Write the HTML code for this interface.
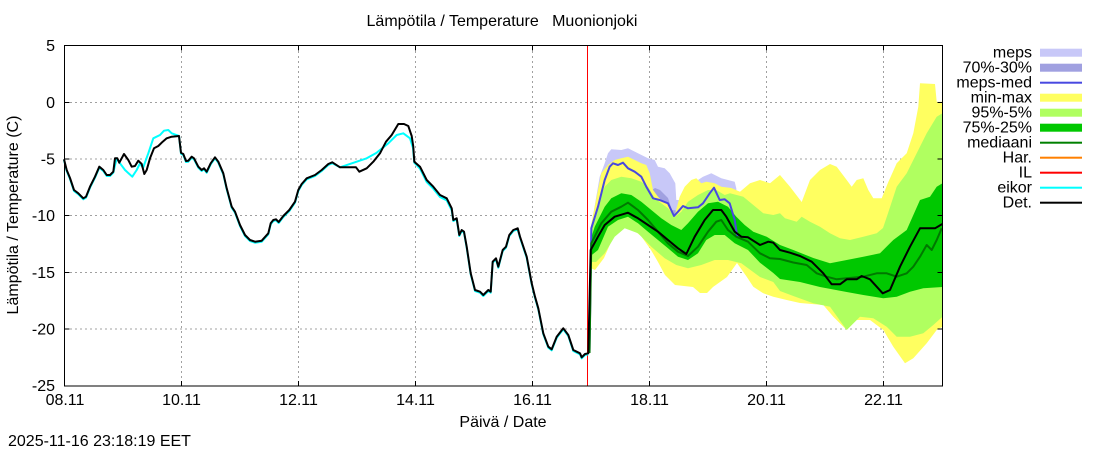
<!DOCTYPE html>
<html><head><meta charset="utf-8"><style>
html,body{margin:0;padding:0;background:#fff;}
svg{display:block;font-family:"Liberation Sans",Arial,sans-serif;}
</style></head><body>
<svg width="1100" height="450" viewBox="0 0 1100 450" xmlns="http://www.w3.org/2000/svg">
<rect width="1100" height="450" fill="#fff"/>
<!-- grid -->
<g stroke="#a0a0a0" stroke-width="1" stroke-dasharray="2,3" fill="none">
<line x1="65" y1="102.5" x2="942" y2="102.5"/>
<line x1="65" y1="159" x2="942" y2="159"/>
<line x1="65" y1="215.5" x2="942" y2="215.5"/>
<line x1="65" y1="272.5" x2="942" y2="272.5"/>
<line x1="65" y1="329" x2="942" y2="329"/>
<line x1="181.5" y1="46" x2="181.5" y2="385"/>
<line x1="298.5" y1="46" x2="298.5" y2="385"/>
<line x1="415.5" y1="46" x2="415.5" y2="385"/>
<line x1="532.5" y1="46" x2="532.5" y2="385"/>
<line x1="649.5" y1="46" x2="649.5" y2="385"/>
<line x1="766.5" y1="46" x2="766.5" y2="385"/>
<line x1="883.5" y1="46" x2="883.5" y2="385"/>
</g>
<!-- meps band -->
<polygon fill="#c8c8f8" points="590.5,230 594,210 599.7,176.7 604.7,163.3 608,153.3 611.3,149.3 621.3,150 628,148.3 638,153.3 648,158.3 654.7,160 658,166.7 664.7,168.3 669.7,173.3 675.3,183.3 676.3,200 690,200 696,185 698,180 703,176.7 711.3,173.3 721.3,178.3 728,180 734.7,181.7 736.3,188.3 738,230 736,240 700,220 680,225 660,215 630,190 610,190 595,240 590.5,245"/>
<polygon fill="#a0a0e0" points="600,215 620,172 640,182 645,195 655,188 660,190 668,198 672,210 690,212 710,198 730,205 736,222 736,240 700,222 680,228 660,220 640,205 620,195 600,235"/>
<!-- min-max -->
<polygon fill="#ffff60" points="590.5,228 594.7,206.7 601.3,173.3 608,165 614.7,160 621.3,158.3 628,156.7 634.7,160 641.3,163.3 646.3,165 649.7,173.3 653,190 658,196.7 663,201.7 669.7,205 674.7,215 679.7,196.7 684.7,186.7 691.3,180 696.3,178.3 701.3,183.3 706.3,181.7 714.7,183.3 721.3,186.7 731.3,188 740,191.7 750,183.3 760,180 770,183.3 780,175 790,186.7 801.7,202 810,180 820,170 830,164 836.7,166.7 846.7,180 851.7,186.7 856.7,180 863.3,178.3 868.3,190 873.3,198.3 881.7,198.3 888.3,182 896.7,163.3 906.7,153.3 913.3,133.3 918.3,106.7 920,83.3 935,84 936.7,101.7 942.5,101.7 942.5,326.7 936.7,330 926.7,343.3 913.3,358.3 905,363.3 893.3,346.7 883.3,330 870,320 856.7,320 846.7,330 833.3,316.7 823.3,305 800,303 786.7,300 773.3,296.7 763.3,293.3 753.3,286.7 746.7,276.7 737,263 727,277 713,287 707,293 700,293 693,287 675,285 665,275 658,262 651,250 641,236 631,228 621,226 612,240 604,258 595,270 590.5,268"/>
<!-- 95-5 -->
<polygon fill="#b0ff60" points="590.5,235 598,203.3 604.7,186.7 611.3,180 621.3,176.7 631.3,178.3 641.3,181.7 648,186.7 654.7,198.3 661.3,203.3 668,208.3 674.7,216.7 681.3,211.7 688,201.7 698,195 708,190 716.3,190 724.7,195 730,193.3 743.3,196.7 753.3,205 763.3,213.3 773.3,215 780,213.3 785,218.3 796.7,221.7 801.7,216.7 810,221.7 820,226.7 830,233.3 840,238.3 850,240 863.3,236.7 876.7,233.3 883,228 888,213.3 896.7,186.7 906.7,173.3 916.7,153.3 926.7,133.3 936.7,116.7 942.5,113.3 942.5,316.7 933.3,325 923.3,333.3 910,336.7 896.7,336.7 886.7,326.7 873.3,318.3 860,316.7 846.7,330 830,306.7 813.3,303.3 793.3,296 780,291 773.3,282 760,277 741.3,263.3 728,260 714.7,260 701.3,265 688,268.3 676.3,265 664.7,258.3 651.3,246.7 638,233.3 624.7,228.3 614.7,236.7 604.7,253.3 596,262 590.5,262"/>
<!-- 75-25 -->
<polygon fill="#00c800" points="590.5,240 594.7,226.7 604.7,206.7 611.3,198.3 621.3,193.3 631.3,195 641.3,201.7 651.3,210 661.3,218.3 671.3,225 681.3,230 688,223.3 698,211.7 708,203.3 718,201.7 728,206.7 736.3,216.7 744.7,225 753.3,231.7 766.7,236.7 780,245 793.3,250 813.3,258 830,263.3 846.7,260 863.3,256.7 880,253.3 893.3,240 906.7,230 920,200 930,196.7 936.7,186.7 942.5,183.3 942.5,287 923.3,288.3 910,291.7 896.7,296.7 883.3,298.3 863.3,295 846.7,292 820,287 800,282 780,279 773.3,273 760,262.7 748,250 734.7,243.3 724.7,235 714.7,235 706.3,240 698,253.3 688,260 678,256.7 668,248.3 658,240 648,231.7 638,223.3 628,216.7 618,220 608,226.7 598,250 590.5,256"/>
<!-- forecast-time line -->
<line x1="587.5" y1="45" x2="587.5" y2="386" stroke="#ff0000" stroke-width="1"/>
<!-- eikor (cyan) observed -->
<polyline fill="none" stroke="#00ffff" stroke-width="2" stroke-linejoin="round" points="64,160 66.7,171 70,179 74,191 78.3,194.3 83.3,199.3 86,197.7 90,187.7 95,177.7 99.3,167.7 103.3,171 106.7,176 110,176 113.3,172.7 116.7,158.3 120,163.3 125,170 132.3,176.7 136.7,170 140,163.3 143,168 148.3,153.3 153.3,138.3 160,135 164,130.7 168.3,130 171.7,133.3 179,136 181,153.7 183.3,155 186,162 188.3,161.7 191.7,157.7 194,159.3 198.3,167.7 201.7,171 204,169.3 206.7,172.7 210.7,164.3 215,158.3 218.3,162.7 223.3,174.3 226.7,189.3 231.7,207.7 235,212.7 240,226 245,236 250,241 255,242.7 261.7,241.7 268.3,234.3 270.7,224.3 273.3,221 276,220.3 278.7,223 283.3,217 289.3,211 295,202.7 298.3,191 301.7,185 306.7,179.3 315,176 321.7,171 328.3,165 332.3,163.3 340,167.3 356.7,161.7 366.7,158.3 376.7,152.7 388.3,143.3 396.7,135 403.3,133.3 410,138.3 413,148 414.3,162.7 420,168.7 426.7,182 433.3,188.7 440,197 446.7,200.3 451.7,210.3 453.3,221 456.7,219.3 459.3,236 461.7,231 464,232.7 466.7,247.7 470.7,274.3 475,291 480,292.7 483.3,296 488.3,291 490.7,292.7 492.7,262.7 496,259.3 498.3,267.7 502.7,251 506,247.7 509.3,236 513.3,231 517.7,229.3 520,237.7 526.7,257.7 531.7,284.3 535,297.7 538.3,309.3 543.3,334.3 548.3,347.7 551.7,350.3 556.7,337.7 563.3,329.3 568.3,336 573.3,351 576.7,352.7 580,354.3 581.7,358.3 585,355 588.3,354.3"/>
<!-- meps-med -->
<polyline fill="none" stroke="#4848e0" stroke-width="2" stroke-linejoin="round" points="589.5,353 591.3,228.3 598,206.7 604.7,180 609.7,166.7 613,163.3 618,165 623,162.7 628,168.3 634.7,171.7 641.3,176.7 646.3,186.7 653,198.3 659.7,200 668,203.3 674,216 678,211.7 683,206 688,208.3 698,207.3 703,203.3 709.7,193.3 714,187.7 719.7,200 724.7,199.3 729.7,203.3 734.7,220 737.3,236.7"/>
<!-- median -->
<polyline fill="none" stroke="#007800" stroke-width="2" stroke-linejoin="round" points="589.5,353 591.3,243.3 601.3,223.3 611.3,211.7 621.3,206.7 628,202.7 638,210 648,220 658,231.7 668,243.3 678,251.7 688,256 698,246.7 708,231.7 716.3,221.7 721.3,220 728,230 736.3,236.7 748,241.7 760,253.3 770,258.3 780,259 793.3,262.5 806.7,265 816.7,273.3 826.7,276.7 836.7,279.3 846.7,278.3 863.3,276.7 876.7,273.3 886.7,273.3 896.7,276.7 906.7,273.3 913.3,266.7 920,256.7 926.7,245 931.7,250 936.7,240 941.7,228.3"/>
<!-- Det. -->
<polyline fill="none" stroke="#000" stroke-width="2" stroke-linejoin="round" points="64,159.3 66.7,170 70,178 74,190 78.3,193.3 83.3,198.3 86,196.7 90,186.7 95,176.7 99.3,166.7 103.3,170 106.7,175 110,175 113.3,171.7 115,158.3 117.3,158.3 119.3,162.7 124,154 128.3,160 131.7,166.7 135,166 138.3,160.7 141.7,164 144.3,174 146.7,170 150,158.3 154,148.3 158.3,146 162.7,141.7 166.7,138.3 171.7,136.7 179,136 181,152.7 183.3,154 186,161 188.3,160.7 191.7,156.7 194,158.3 198.3,166.7 201.7,170 204,168.3 206.7,171.7 210.7,163.3 215,157.3 218.3,161.7 223.3,173.3 226.7,188.3 231.7,206.7 235,211.7 240,225 245,235 250,240 255,241.7 261.7,240.7 268.3,233.3 270.7,223.3 273.3,220 276,219.3 278.7,222 283.3,216 289.3,210 295,201.7 298.3,190 301.7,184 306.7,178.3 315,175 321.7,170 328.3,164 332.3,162.3 340,167.3 356,167.3 359.3,171.7 366.7,168.3 373.3,161.7 380,153.3 386,141.7 391.7,135 398.3,124 404,124 408.3,126 411.7,136 413.3,146.7 414.3,161.7 420,166.7 426.7,180 433.3,186.7 440,195 446.7,198.3 451.7,208.3 453.3,220 456.7,218.3 459.3,235 461.7,230 464,231.7 466.7,246.7 470.7,273.3 475,290 480,291.7 483.3,295 488.3,290 490.7,291.7 492.7,261.7 496,258.3 498.3,266.7 502.7,250 506,246.7 509.3,235 513.3,230 517.7,228.3 520,236.7 526.7,256.7 531.7,283.3 535,296.7 538.3,308.3 543.3,333.3 548.3,346.7 551.7,349.3 556.7,336.7 563.3,328.3 568.3,335 573.3,350 576.7,351.7 580,353.3 581.7,357.3 585,354 588.3,353.3 590.7,250 598,236.7 604.7,225 614.7,216.7 628,212.7 638,218.3 648,225 658,231.7 668,240 678,248.3 686.3,254 694.7,236.7 704.7,220 713,210 721.3,210 726.3,216.7 734.7,231.7 741.3,236.7 748,237.3 760,245 768.3,241.7 773.3,242.7 780,250 790,252.7 800,256 811.7,261.7 823.3,273.3 831.7,284.3 840,284.3 846.7,279.3 856.7,279.3 861.7,276 870,279.3 876.7,286.7 882.7,293.3 890,290 900,266.7 910,246.7 920,228.3 935,228.3 942.3,224"/>
<!-- frame -->
<rect x="64.5" y="45.5" width="878" height="340.5" fill="none" stroke="#000" stroke-width="1"/>
<!-- ticks -->
<g stroke="#000" stroke-width="1">
<line x1="64.5" y1="102.5" x2="69.5" y2="102.5"/><line x1="942.5" y1="102.5" x2="937.5" y2="102.5"/>
<line x1="64.5" y1="159" x2="69.5" y2="159"/><line x1="942.5" y1="159" x2="937.5" y2="159"/>
<line x1="64.5" y1="215.5" x2="69.5" y2="215.5"/><line x1="942.5" y1="215.5" x2="937.5" y2="215.5"/>
<line x1="64.5" y1="272.5" x2="69.5" y2="272.5"/><line x1="942.5" y1="272.5" x2="937.5" y2="272.5"/>
<line x1="64.5" y1="329" x2="69.5" y2="329"/><line x1="942.5" y1="329" x2="937.5" y2="329"/>
<line x1="181.5" y1="45.5" x2="181.5" y2="50.5"/><line x1="181.5" y1="386" x2="181.5" y2="381"/>
<line x1="298.5" y1="45.5" x2="298.5" y2="50.5"/><line x1="298.5" y1="386" x2="298.5" y2="381"/>
<line x1="415.5" y1="45.5" x2="415.5" y2="50.5"/><line x1="415.5" y1="386" x2="415.5" y2="381"/>
<line x1="532.5" y1="45.5" x2="532.5" y2="50.5"/><line x1="532.5" y1="386" x2="532.5" y2="381"/>
<line x1="649.5" y1="45.5" x2="649.5" y2="50.5"/><line x1="649.5" y1="386" x2="649.5" y2="381"/>
<line x1="766.5" y1="45.5" x2="766.5" y2="50.5"/><line x1="766.5" y1="386" x2="766.5" y2="381"/>
<line x1="883.5" y1="45.5" x2="883.5" y2="50.5"/><line x1="883.5" y1="386" x2="883.5" y2="381"/>
</g>
<!-- y tick labels -->
<g font-size="16" fill="#000" text-anchor="end">
<text x="55" y="51">5</text>
<text x="55" y="108">0</text>
<text x="55" y="164.5">-5</text>
<text x="55" y="221">-10</text>
<text x="55" y="278">-15</text>
<text x="55" y="334.5">-20</text>
<text x="55" y="391">-25</text>
</g>
<!-- x tick labels -->
<g font-size="16" fill="#000" text-anchor="middle">
<text x="65" y="405">08.11</text>
<text x="181.5" y="405">10.11</text>
<text x="298.5" y="405">12.11</text>
<text x="415.5" y="405">14.11</text>
<text x="532.5" y="405">16.11</text>
<text x="649.5" y="405">18.11</text>
<text x="766.5" y="405">20.11</text>
<text x="883.5" y="405">22.11</text>
</g>
<text x="503" y="427" font-size="16" text-anchor="middle">Päivä / Date</text>
<text x="502" y="26" font-size="16" text-anchor="middle" xml:space="preserve">Lämpötila / Temperature   Muonionjoki</text>
<text transform="translate(18,215) rotate(-90)" font-size="16" text-anchor="middle">Lämpötila / Temperature (C)</text>
<text x="8" y="446" font-size="16">2025-11-16 23:18:19 EET</text>
<!-- legend -->
<g font-size="16" text-anchor="end" fill="#000">
<text x="1032" y="57.5">meps</text>
<text x="1032" y="72.5">70%-30%</text>
<text x="1032" y="87.5">meps-med</text>
<text x="1032" y="102.5">min-max</text>
<text x="1032" y="117.5">95%-5%</text>
<text x="1032" y="132.5">75%-25%</text>
<text x="1032" y="147.5">mediaani</text>
<text x="1032" y="162.5">Har.</text>
<text x="1032" y="177.5">IL</text>
<text x="1032" y="192.5">eikor</text>
<text x="1032" y="207.5">Det.</text>
</g>
<rect x="1040" y="48.7" width="42" height="8" fill="#c8c8f8"/>
<rect x="1040" y="63.7" width="42" height="8" fill="#a0a0e0"/>
<rect x="1040" y="81.7" width="42" height="2" fill="#4848e0"/>
<rect x="1040" y="93.7" width="42" height="8" fill="#ffff60"/>
<rect x="1040" y="108.7" width="42" height="8" fill="#b0ff60"/>
<rect x="1040" y="123.7" width="42" height="8" fill="#00c800"/>
<rect x="1040" y="141.7" width="42" height="2" fill="#008000"/>
<rect x="1040" y="156.7" width="42" height="2" fill="#ff8000"/>
<rect x="1040" y="171.7" width="42" height="2" fill="#ff0000"/>
<rect x="1040" y="186.7" width="42" height="2" fill="#00ffff"/>
<rect x="1040" y="201.7" width="42" height="2" fill="#000000"/>
</svg>
</body></html>
